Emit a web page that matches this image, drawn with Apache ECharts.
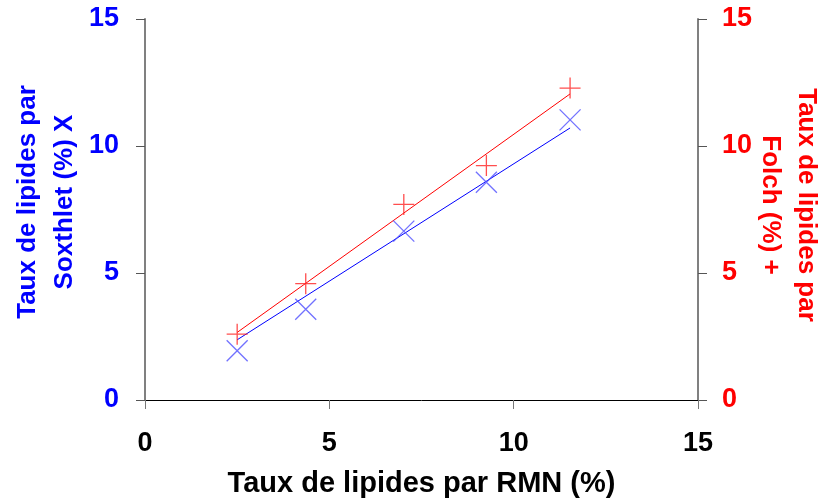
<!DOCTYPE html>
<html>
<head>
<meta charset="utf-8">
<script src="https://cdn.jsdelivr.net/npm/echarts@6/dist/echarts.min.js"></script>
<style>
  html, body { margin: 0; padding: 0; background: #fff; }
  #chart { width: 819px; height: 503px; }
</style>
</head>
<body>
<div id="chart"></div>
<script>
// Lipid content measured by NMR (x) against Soxhlet and Folch extraction (y)
const rmn     = [2.50, 4.36, 7.02, 9.26, 11.53];
const soxhlet = [1.94, 3.57, 6.65, 8.57, 11.03];
const folch   = [2.59, 4.58, 7.70, 9.23, 12.28];

// Trend line end points
const fitX       = [2.50, 11.53];
const soxhletFit = [2.37, 10.71];
const folchFit   = [2.66, 12.05];

const axisTicks = [0, 5, 10, 15];

const BLUE = '#0000ff';
const RED = '#ff0000';
const FONT = '"Liberation Sans", Arial, sans-serif';

const pairs = (xs, ys) => xs.map((x, i) => [x, ys[i]]);

const chart = echarts.init(document.getElementById('chart'));

const yAxisBase = {
  type: 'value',
  min: axisTicks[0],
  max: axisTicks[axisTicks.length - 1],
  interval: 5,
  splitLine: { show: false },
  axisLine: { show: true, lineStyle: { color: '#808080', width: 2 } },
  axisTick: { show: true, length: 9, lineStyle: { color: '#555', width: 1 } }
};

chart.setOption({
  animation: false,
  backgroundColor: '#ffffff',
  grid: { left: 145, right: 121, top: 19, bottom: 102 },
  xAxis: {
    type: 'value',
    min: axisTicks[0],
    max: axisTicks[axisTicks.length - 1],
    interval: 5,
    splitLine: { show: false },
    axisLine: { onZero: false, lineStyle: { color: '#000', width: 1 } },
    axisTick: { length: 9, lineStyle: { color: '#777', width: 1 } },
    axisLabel: { color: '#000', fontFamily: FONT, fontWeight: 'bold', fontSize: 27, margin: 30 },
    name: 'Taux de lipides par RMN (%)',
    nameLocation: 'middle',
    nameGap: 69,
    nameTextStyle: { color: '#000', fontFamily: FONT, fontWeight: 'bold', fontSize: 29 }
  },
  yAxis: [
    Object.assign({}, yAxisBase, {
      position: 'left',
      axisLabel: { color: BLUE, fontFamily: FONT, fontWeight: 'bold', fontSize: 27, margin: 26 }
    }),
    Object.assign({}, yAxisBase, {
      position: 'right',
      axisLabel: { color: RED, fontFamily: FONT, fontWeight: 'bold', fontSize: 27, margin: 24 }
    })
  ],
  graphic: [
    {
      type: 'text',
      x: 46, y: 202,
      rotation: Math.PI / 2,
      style: {
        text: 'Taux de lipides par\nSoxthlet (%) X',
        fill: BLUE,
        font: 'bold 26px ' + FONT,
        lineHeight: 37,
        textAlign: 'center',
        textVerticalAlign: 'middle'
      }
    },
    {
      type: 'text',
      x: 788, y: 205,
      rotation: -Math.PI / 2,
      style: {
        text: 'Taux de lipides par\nFolch (%) +',
        fill: RED,
        font: 'bold 26px ' + FONT,
        lineHeight: 36,
        textAlign: 'center',
        textVerticalAlign: 'middle'
      }
    }
  ],
  series: [
    {
      name: 'Soxhlet fit',
      type: 'line',
      yAxisIndex: 0,
      data: pairs(fitX, soxhletFit),
      symbol: 'none',
      lineStyle: { color: BLUE, width: 1 },
      z: 2
    },
    {
      name: 'Folch fit',
      type: 'line',
      yAxisIndex: 1,
      data: pairs(fitX, folchFit),
      symbol: 'none',
      lineStyle: { color: RED, width: 1 },
      z: 2
    },
    {
      name: 'Soxhlet',
      type: 'scatter',
      yAxisIndex: 0,
      data: pairs(rmn, soxhlet),
      symbol: 'path://M0,0L10,10M10,0L0,10',
      symbolSize: 21,
      itemStyle: { color: 'none', borderColor: '#4d4dff', borderWidth: 1.3 },
      z: 3
    },
    {
      name: 'Folch',
      type: 'scatter',
      yAxisIndex: 1,
      data: pairs(rmn, folch),
      symbol: 'path://M5,0L5,10M0,5L10,5',
      symbolSize: 21,
      itemStyle: { color: 'none', borderColor: '#ff2222', borderWidth: 1.3 },
      z: 3
    }
  ]
});
</script>
</body>
</html>
